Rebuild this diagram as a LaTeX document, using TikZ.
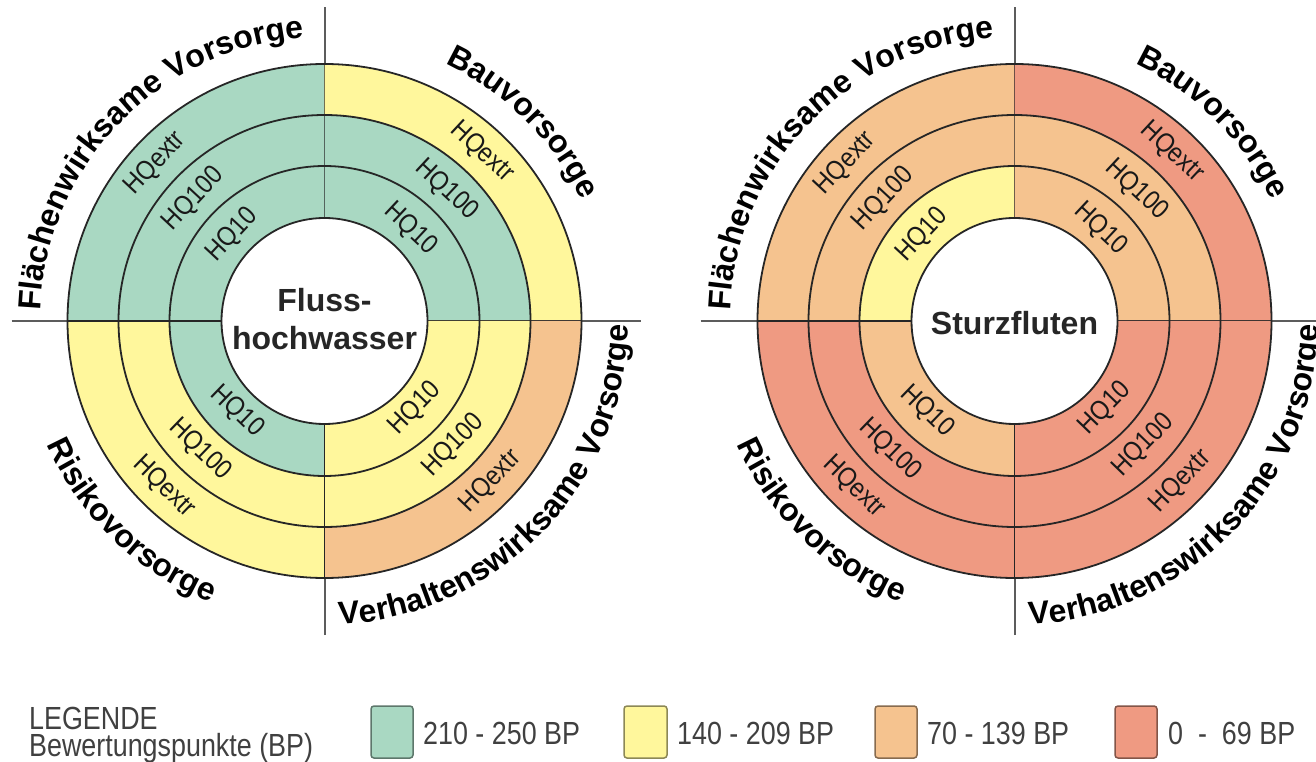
\documentclass[tikz,border=0pt]{standalone}
\usepackage{fontspec}
\setmainfont{Liberation Sans}
\newfontfamily\legendfont[FakeStretch=0.84]{Liberation Sans}
\newfontfamily\ringfont[FakeStretch=0.88]{Liberation Sans}
\usetikzlibrary{decorations.text}

\definecolor{bpgreen}{HTML}{A9D8C2}
\definecolor{bpyellow}{HTML}{FFF79C}
\definecolor{bporange}{HTML}{F5C38F}
\definecolor{bpred}{HTML}{EF9A82}
\definecolor{ringline}{HTML}{262626}
\definecolor{axisgray}{HTML}{5C5C5C}

\newcommand\sectorfont{\bfseries\fontsize{32}{38}\selectfont}

\tikzset{
  axisline/.style={draw=axisgray,line width=2pt},
  ringedge/.style={draw=ringline,line width=1.8pt},
  ringlabel/.style={font=\ringfont\fontsize{27}{27}\selectfont,text=black!90,inner sep=0pt},
  centerlabel/.style={font=\bfseries\fontsize{32}{38}\selectfont,align=center,text=black!85},
  legendtext/.style={font=\legendfont\fontsize{32}{32}\selectfont,text=black!75,anchor=base west,inner sep=0pt},
  legendbox/.style={rounded corners=3pt,line width=1.5pt}
}

\begin{document}
\begin{tikzpicture}[x=1pt,y=1pt]
\useasboundingbox (0,0) rectangle (1316,761);

% Flusshochwasser
\begin{scope}[shift={(324.5,440)}]
\draw[axisline] (-313,0) -- (316,0);
\draw[axisline] (0,-314) -- (0,314);
\foreach \a/\ci/\cii/\ciii in {90/bpgreen/bpgreen/bpgreen,0/bpgreen/bpgreen/bpyellow,
  180/bpgreen/bpyellow/bpyellow,270/bpyellow/bpyellow/bporange}{
  \fill[\ci] (\a:103) arc[start angle=\a,end angle=\a+90,radius=103] -- (\a+90:155) arc[start angle=\a+90,end angle=\a,radius=155] -- cycle;
  \fill[\cii] (\a:155) arc[start angle=\a,end angle=\a+90,radius=155] -- (\a+90:206) arc[start angle=\a+90,end angle=\a,radius=206] -- cycle;
  \fill[\ciii] (\a:206) arc[start angle=\a,end angle=\a+90,radius=206] -- (\a+90:257) arc[start angle=\a+90,end angle=\a,radius=257] -- cycle;
  \draw[ringedge] (\a:103) -- (\a:257);
}
\draw[ringedge] (0,0) circle[radius=155] (0,0) circle[radius=206] (0,0) circle[radius=257];
\draw[ringedge,fill=white] (0,0) circle[radius=103];
\foreach \a/\r in {137/-90,47/-90,226/90,316/90}{
  \node[ringlabel,rotate=\a+\r] (fa10-\a) at (\a:126) {HQ10};
  \node[ringlabel,rotate=\a+\r] (fa100-\a) at (\a:179) {HQ100};
  \node[ringlabel,rotate=\a+\r] (faex-\a) at (\a:231) {HQextr};
}
\node[centerlabel] (fluss) at (0,2) {Fluss-\\hochwasser};
\path[decorate,decoration={text along path,text align=center,text={|\sectorfont|Flächenwirksame Vorsorge}}]
  (196:284) arc[start angle=196,end angle=76,radius=284];
\path[decorate,decoration={text along path,text align=center,text={|\sectorfont|Bauvorsorge}}]
  (100:284) arc[start angle=100,end angle=-10,radius=284];
\path[decorate,decoration={text along path,text align=center,text={|\sectorfont|Risikovorsorge}}]
  (166:304) arc[start angle=166,end angle=286,radius=304];
\path[decorate,decoration={text along path,text align=center,text={|\sectorfont|Verhaltenswirksame Vorsorge}}]
  (246:304) arc[start angle=246,end angle=386,radius=304];
\end{scope}

% Sturzfluten
\begin{scope}[shift={(1014.5,440)}]
\draw[axisline] (-314,0) -- (302,0);
\draw[axisline] (0,-314) -- (0,314);
\foreach \a/\ci/\cii/\ciii in {90/bpyellow/bporange/bporange,0/bporange/bporange/bpred,
  180/bporange/bpred/bpred,270/bpred/bpred/bpred}{
  \fill[\ci] (\a:103) arc[start angle=\a,end angle=\a+90,radius=103] -- (\a+90:155) arc[start angle=\a+90,end angle=\a,radius=155] -- cycle;
  \fill[\cii] (\a:155) arc[start angle=\a,end angle=\a+90,radius=155] -- (\a+90:206) arc[start angle=\a+90,end angle=\a,radius=206] -- cycle;
  \fill[\ciii] (\a:206) arc[start angle=\a,end angle=\a+90,radius=206] -- (\a+90:257) arc[start angle=\a+90,end angle=\a,radius=257] -- cycle;
  \draw[ringedge] (\a:103) -- (\a:257);
}
\draw[ringedge] (0,0) circle[radius=155] (0,0) circle[radius=206] (0,0) circle[radius=257];
\draw[ringedge,fill=white] (0,0) circle[radius=103];
\foreach \a/\r in {137/-90,47/-90,226/90,316/90}{
  \node[ringlabel,rotate=\a+\r] (sf10-\a) at (\a:126) {HQ10};
  \node[ringlabel,rotate=\a+\r] (sf100-\a) at (\a:179) {HQ100};
  \node[ringlabel,rotate=\a+\r] (sfex-\a) at (\a:231) {HQextr};
}
\node[centerlabel] (sturz) at (0,-2) {Sturzfluten};
\path[decorate,decoration={text along path,text align=center,text={|\sectorfont|Flächenwirksame Vorsorge}}]
  (196:284) arc[start angle=196,end angle=76,radius=284];
\path[decorate,decoration={text along path,text align=center,text={|\sectorfont|Bauvorsorge}}]
  (100:284) arc[start angle=100,end angle=-10,radius=284];
\path[decorate,decoration={text along path,text align=center,text={|\sectorfont|Risikovorsorge}}]
  (166:304) arc[start angle=166,end angle=286,radius=304];
\path[decorate,decoration={text along path,text align=center,text={|\sectorfont|Verhaltenswirksame Vorsorge}}]
  (246:304) arc[start angle=246,end angle=386,radius=304];
\end{scope}

% Legende
\node[legendtext] (leg) at (29,32) {LEGENDE};
\node[legendtext] (bp) at (29,5) {Bewertungspunkte (BP)};
\draw[legendbox,fill=bpgreen,draw=bpgreen!55!black] (371,3) rectangle (413,55);
\node[legendtext] (bp1) at (423,17) {210 - 250 BP};
\draw[legendbox,fill=bpyellow,draw=bpyellow!55!black] (624,3) rectangle (667,55);
\node[legendtext] (bp2) at (677,17) {140 - 209 BP};
\draw[legendbox,fill=bporange,draw=bporange!55!black] (875,3) rectangle (917,55);
\node[legendtext] (bp3) at (927,17) {70 - 139 BP};
\draw[legendbox,fill=bpred,draw=bpred!55!black] (1115,3) rectangle (1157,55);
\node[legendtext] (bp4) at (1168,17) {0 \ - \ 69 BP};
\end{tikzpicture}
\end{document}
